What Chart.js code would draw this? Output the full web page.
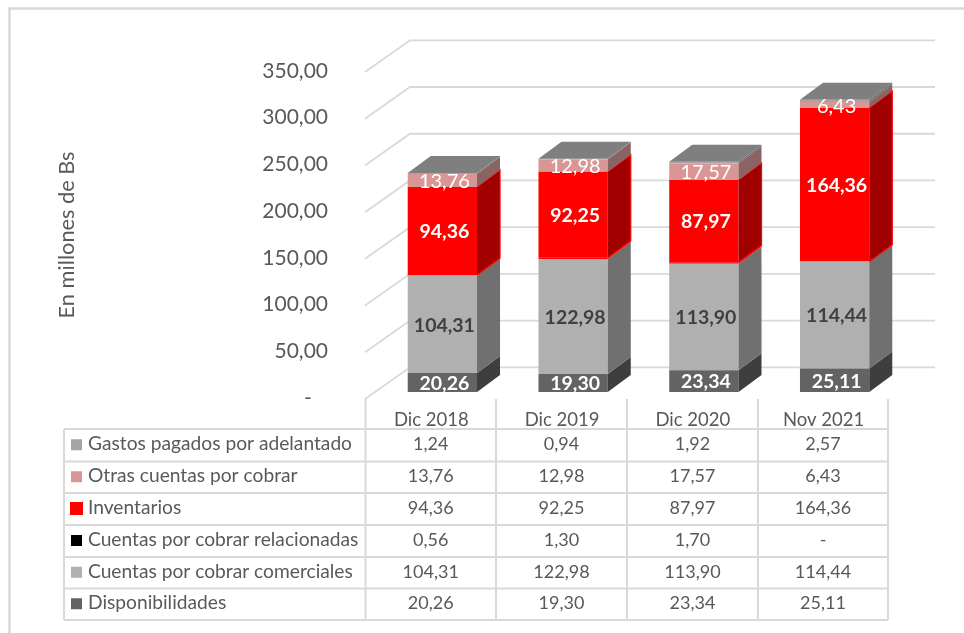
<!DOCTYPE html>
<html>
<head>
<meta charset="utf-8">
<title>Activo corriente</title>
<style>
	html, body { margin: 0; padding: 0; background: #fff; }
	canvas { display: block; }
</style>
<script src="https://cdn.jsdelivr.net/npm/chart.js@4/dist/chart.umd.min.js"></script>
</head>
<body>
<canvas id="chart" width="964" height="633"></canvas>
<script>
const periods = ['Dic 2018', 'Dic 2019', 'Dic 2020', 'Nov 2021'];

const disponibilidades = [20.26, 19.30, 23.34, 25.11];
const comerciales = [104.31, 122.98, 113.90, 114.44];
const relacionadas = [0.56, 1.30, 1.70, 0];
const inventarios = [94.36, 92.25, 87.97, 164.36];
const otras = [13.76, 12.98, 17.57, 6.43];
const gastos = [1.24, 0.94, 1.92, 2.57];

const yTicks = [0, 50, 100, 150, 200, 250, 300, 350];

const axisTitle = 'En millones de Bs';
const textColor = '#595959';
const lineColor = '#d9d9d9';
const fontName = 'Lato, "Open Sans", sans-serif';

// 3D look of the excel chart
const barDepth = { x: 23, y: -17 };
const wallDepth = { x: 45, y: -31.7 };
const wallShift = { x: -12, y: 7 };
const wallRight = 935;

// table grid
const tableLeft = 64;
const tableCols = [365.5, 496, 627, 758, 888];
const tableRows = [429, 461.5, 493, 525, 557, 588.5, 620];
const tableTop = 399;

function fmt(v) {
	return v === 0 ? '-' : v.toFixed(2).replace('.', ',');
}

// first row of the table is the top of the stack
const series = [
	{ label: 'Disponibilidades', data: disponibilidades, color: '#636363', side: '#3e3e3e', key: '#636363', labelColor: '#ffffff', labelWeight: 'bold', labelSize: 19.5 },
	{ label: 'Cuentas por cobrar comerciales', data: comerciales, color: '#b0b0b0', side: '#707070', key: '#b0b0b0', labelColor: '#404040', labelWeight: 'bold', labelSize: 19.5 },
	{ label: 'Cuentas por cobrar relacionadas', data: relacionadas, color: '#ff0000', side: '#ff0000', key: '#000000' },
	{ label: 'Inventarios', data: inventarios, color: '#ff0000', side: '#a00000', edge: '#ff0000', key: '#ff0000', labelColor: '#ffffff', labelWeight: 'bold', labelSize: 19.5 },
	{ label: 'Otras cuentas por cobrar', data: otras, color: '#da9694', side: '#8a6362', key: '#da9694', labelColor: '#ffffff', labelWeight: 'normal', labelSize: 20 },
	{ label: 'Gastos pagados por adelantado', data: gastos, color: '#a5a5a5', side: '#6e6e6e', key: '#a5a5a5' }
];

/* Back wall, left wall and outer frame */
const wallsPlugin = {
	id: 'walls',
	beforeDatasetsDraw(chart) {
		const c = chart.ctx;
		const y = chart.scales.y;
		const left = chart.chartArea.left + wallShift.x;
		c.save();
		c.strokeStyle = lineColor;
		c.lineWidth = 2.5;
		c.beginPath();
		c.moveTo(9.5, 633);
		c.lineTo(9.5, 8.5);
		c.lineTo(964, 8.5);
		c.stroke();
		c.lineWidth = 1.8;
		c.beginPath();
		yTicks.forEach((t) => {
			const yf = y.getPixelForValue(t) + wallShift.y;
			const yb = yf + wallDepth.y;
			c.moveTo(left, yf);
			c.lineTo(left + wallDepth.x, yb);
			c.lineTo(wallRight, yb);
		});
		c.stroke();
		c.restore();
	},
	/* Sides and top of each bar */
	afterDatasetsDraw(chart) {
		const c = chart.ctx;
		c.save();
		series.forEach((s, i) => {
			chart.getDatasetMeta(i).data.forEach((bar) => {
				const r = bar.x + bar.width / 2;
				const l = bar.x - bar.width / 2;
				c.fillStyle = s.side;
				c.beginPath();
				c.moveTo(r, bar.y);
				c.lineTo(r + barDepth.x, bar.y + barDepth.y);
				c.lineTo(r + barDepth.x, bar.base + barDepth.y);
				c.lineTo(r, bar.base);
				c.closePath();
				c.fill();
				if (s.edge) {
					c.strokeStyle = s.edge;
					c.lineWidth = 1.2;
					c.beginPath();
					c.moveTo(r, bar.y);
					c.lineTo(r + barDepth.x, bar.y + barDepth.y);
					c.lineTo(r + barDepth.x, bar.base + barDepth.y);
					c.lineTo(r, bar.base);
					c.stroke();
				}
				if (i === series.length - 1) {
					c.fillStyle = '#7f7f7f';
					c.beginPath();
					c.moveTo(l, bar.y);
					c.lineTo(l + barDepth.x, bar.y + barDepth.y);
					c.lineTo(r + barDepth.x, bar.y + barDepth.y);
					c.lineTo(r, bar.y);
					c.closePath();
					c.fill();
				}
			});
		});
		c.restore();
	}
};

/* Value labels inside of the bars */
const labelsPlugin = {
	id: 'barLabels',
	afterDraw(chart) {
		const c = chart.ctx;
		c.save();
		c.textAlign = 'center';
		c.textBaseline = 'middle';
		series.forEach((s, i) => {
			if (!s.labelColor) return;
			c.fillStyle = s.labelColor;
			c.font = s.labelWeight + ' ' + s.labelSize + 'px ' + fontName;
			chart.getDatasetMeta(i).data.forEach((bar, j) => {
				c.fillText(fmt(s.data[j]), bar.x + 2, (bar.y + bar.base) / 2 + 1);
			});
		});
		c.restore();
	}
};

/* Data table under the chart plus the axis title */
const tablePlugin = {
	id: 'dataTable',
	afterDraw(chart) {
		const c = chart.ctx;
		c.save();
		c.strokeStyle = lineColor;
		c.lineWidth = 2;
		c.beginPath();
		tableRows.forEach((y) => {
			c.moveTo(tableLeft, y);
			c.lineTo(tableCols[tableCols.length - 1], y);
		});
		tableCols.forEach((x) => {
			c.moveTo(x, tableTop);
			c.lineTo(x, tableRows[tableRows.length - 1]);
		});
		c.moveTo(tableLeft, tableRows[0]);
		c.lineTo(tableLeft, tableRows[tableRows.length - 1]);
		c.stroke();

		c.textBaseline = 'middle';
		const rows = series.slice().reverse();
		rows.forEach((s, r) => {
			const mid = (tableRows[r] + tableRows[r + 1]) / 2 - 1;
			const size = s.key === '#ff0000' ? 13 : 11;
			c.fillStyle = s.key;
			c.fillRect(76.5 - size / 2, mid + 0.5 - size / 2, size, size);
			c.fillStyle = textColor;
			c.textAlign = 'left';
			c.font = '19.2px ' + fontName;
			c.fillText(s.label, 88, mid);
			c.textAlign = 'center';
			c.font = '18px ' + fontName;
			s.data.forEach((v, j) => {
				c.fillText(fmt(v), (tableCols[j] + tableCols[j + 1]) / 2, mid);
			});
		});

		c.translate(67, 235);
		c.rotate(-Math.PI / 2);
		c.textAlign = 'center';
		c.font = '21.8px ' + fontName;
		c.fillText(axisTitle, 0, 0);
		c.restore();
	}
};

const chartData = {
	labels: periods,
	datasets: series.map((s) => ({
		label: s.label,
		data: s.data,
		backgroundColor: s.color,
		borderWidth: 0,
		barPercentage: 0.53,
		categoryPercentage: 1
	}))
};

const chartConfig = {
	type: 'bar',
	data: chartData,
	plugins: [wallsPlugin, labelsPlugin, tablePlugin],
	options: {
		animation: false,
		responsive: false,
		layout: { padding: { top: 65, right: 64, bottom: 0, left: 0 } },
		plugins: {
			legend: { display: false },
			tooltip: { enabled: false }
		},
		scales: {
			x: {
				stacked: true,
				grid: { display: false, drawTicks: false },
				border: { display: false },
				afterFit(scale) { scale.height = 241; },
				ticks: {
					color: textColor,
					font: { family: fontName, size: 18.5 },
					padding: 17,
					labelOffset: -11,
					maxRotation: 0,
					autoSkip: false
				}
			},
			y: {
				stacked: true,
				min: 0,
				max: 350,
				grid: { display: false, drawTicks: false },
				border: { display: false },
				afterFit(scale) { scale.width = 377; },
				ticks: {
					stepSize: 50,
					color: textColor,
					font: { family: fontName, size: 21 },
					padding: 49,
					labelOffset: 6,
					callback: (v) => (v === 0 ? '-\u00a0\u00a0\u00a0' : fmt(v))
				}
			}
		}
	}
};

const chart = new Chart(document.getElementById('chart'), chartConfig);
</script>
</body>
</html>
